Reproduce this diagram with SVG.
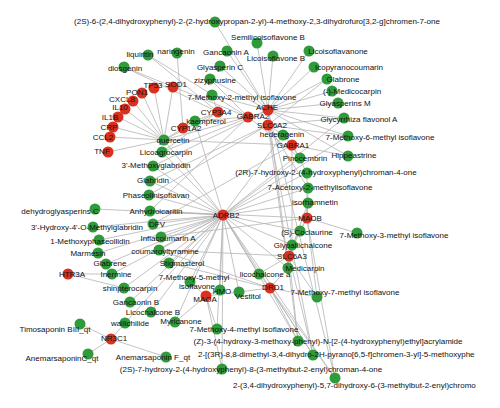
<svg xmlns="http://www.w3.org/2000/svg" width="500" height="408" viewBox="0 0 500 408">
<style>
.e{stroke:#b4b4b4;stroke-width:0.8;fill:none}
.t{fill:#d9311f}
.c{fill:#2f9b3a}
circle{r:5.5px}
text{font-family:"Liberation Sans",Arial,sans-serif;font-size:8px;fill:#111;text-anchor:middle}
.s{text-anchor:start}
</style>
<defs><clipPath id="clip"><rect x="0" y="0" width="484" height="408"/></clipPath></defs>
<rect width="500" height="408" fill="#fff"/>
<g id="connectors" class="e">
<path d="M164 140L154 88M164 140L173 87M164 140L142 93M164 140L133 101M164 140L125 109M164 140L118 117M164 140L113 127M164 140L110 137M164 140L108 152M164 140L183 128M164 140L218 112M164 140L248 117M164 140L292 145M164 140L223 215"/>
<path d="M195 121L183 128M195 121L218 112M195 121L248 117M177 53L183 128M148 55L248 117M148 55L218 112M124 67L218 112M124 67L248 117"/>
<path d="M268 110L215 22M268 110L257 43M268 110L227 51M268 110L273 56M268 110L309 51M268 110L314 67M268 110L327 79M268 110L332 91M268 110L338 103M268 110L344 118M268 110L220 66M268 110L210 79M268 110L212 95M268 110L348 136M268 110L162 152M268 110L153 166M268 110L298 341M268 110L335 378M268 110L348 156"/>
<path d="M268 125L344 118M268 125L348 136M268 125L327 79M268 125L283 135M268 125L313 355M268 125L288 268M268 125L308 188M268 125L150 181M268 125L149 195"/>
<path d="M248 117L300 158M248 117L210 79M248 117L150 211M292 145L283 135M292 145L300 158M292 145L348 156M292 145L307 173M292 145L153 224M292 145L292 245M218 112L212 95M218 112L162 152"/>
<path d="M307 218L308 203M307 218L308 188M307 218L307 173M307 218L300 231M307 218L357 233M307 218L292 245M307 218L161 237M307 218L317 297M307 218L335 378M307 218L150 211"/>
<path d="M289 256L292 245M289 256L288 268M289 256L300 231M289 256L317 297M289 256L259 274M289 256L298 341M289 256L313 355M289 256L159 250M289 256L308 203"/>
<path d="M270 288L259 274M270 288L239 292M270 288L317 297M270 288L288 268M270 288L298 341M270 288L313 355M270 288L335 378M270 288L169 263M270 288L159 250"/>
<path d="M206 296L220 290M206 296L190 282M206 296L217 329M206 296L175 322M206 296L222 369M206 296L239 292"/>
<path d="M223 215L162 152M223 215L153 166M223 215L150 181M223 215L149 195M223 215L150 211M223 215L153 224M223 215L161 237M223 215L159 250M223 215L169 263M223 215L190 282M223 215L95 209M223 215L93 227M223 215L99 240M223 215L98 253M223 215L106 264M223 215L112 274M223 215L124 288M223 215L130 302M223 215L151 312M223 215L175 322M223 215L125 323M223 215L220 290M223 215L239 292M223 215L259 274M223 215L217 329M223 215L222 369M223 215L298 341M223 215L313 355M223 215L335 378M223 215L288 268M223 215L292 245M223 215L300 231M223 215L308 203M223 215L308 188M223 215L307 173M223 215L300 158M223 215L283 135M223 215L195 121M223 215L344 118M223 215L348 136"/>
<path d="M68 274L112 274M68 274L124 288M111 339L80 324M111 339L88 354M111 339L125 323M111 339L166 357"/>
</g>
<g id="nodes">
<g id="n-TP53"><circle class="t" cx="154" cy="88" r="5.5"/><text x="153" y="88">TP53</text></g>
<g id="n-SOD1"><circle class="t" cx="173" cy="87" r="5.5"/><text x="176" y="87">SOD1</text></g>
<g id="n-PON1"><circle class="t" cx="142" cy="93" r="5.5"/><text x="137" y="95">PON1</text></g>
<g id="n-CXCL8"><circle class="t" cx="133" cy="101" r="5.5"/><text x="122" y="102">CXCL8</text></g>
<g id="n-IL10"><circle class="t" cx="125" cy="109" r="5.5"/><text x="120" y="110">IL10</text></g>
<g id="n-IL1B"><circle class="t" cx="118" cy="117" r="5.5"/><text x="110" y="120">IL1B</text></g>
<g id="n-CRP"><circle class="t" cx="113" cy="127" r="5.5"/><text x="109" y="130">CRP</text></g>
<g id="n-CCL2"><circle class="t" cx="110" cy="137" r="5.5"/><text x="103" y="140">CCL2</text></g>
<g id="n-TNF"><circle class="t" cx="108" cy="152" r="5.5"/><text x="102" y="154">TNF</text></g>
<g id="n-CYP1A2"><circle class="t" cx="183" cy="128" r="5.5"/><text x="186" y="131">CYP1A2</text></g>
<g id="n-CYP3A4"><circle class="t" cx="218" cy="112" r="5.5"/><text x="216" y="115">CYP3A4</text></g>
<g id="n-GABRA2"><circle class="t" cx="248" cy="117" r="5.5"/><text x="253" y="119">GABRA2</text></g>
<g id="n-ACHE"><circle class="t" cx="268" cy="110" r="5.5"/><text x="267" y="110">ACHE</text></g>
<g id="n-SLC6A2"><circle class="t" cx="268" cy="125" r="5.5"/><text x="272" y="128">SLC6A2</text></g>
<g id="n-GABRA1"><circle class="t" cx="292" cy="145" r="5.5"/><text x="293" y="148">GABRA1</text></g>
<g id="n-ADRB2"><circle class="t" cx="223" cy="215" r="5.5"/><text x="226" y="218">ADRB2</text></g>
<g id="n-MAOB"><circle class="t" cx="307" cy="218" r="5.5"/><text x="310" y="221">MAOB</text></g>
<g id="n-SLC6A3"><circle class="t" cx="289" cy="256" r="5.5"/><text x="292" y="259">SLC6A3</text></g>
<g id="n-DRD1"><circle class="t" cx="270" cy="288" r="5.5"/><text x="273" y="290">DRD1</text></g>
<g id="n-MAOA"><circle class="t" cx="206" cy="296" r="5.5"/><text x="205" y="302">MAOA</text></g>
<g id="n-HTR3A"><circle class="t" cx="68" cy="274" r="5.5"/><text x="72" y="277">HTR3A</text></g>
<g id="n-NR3C1"><circle class="t" cx="111" cy="339" r="5.5"/><text x="114" y="341">NR3C1</text></g>

<g id="n-c1"><circle class="c" cx="215" cy="22" r="5.5"/><text x="257" y="24">(2S)-6-(2,4-dihydroxyphenyl)-2-(2-hydroxypropan-2-yl)-4-methoxy-2,3-dihydrofuro[3,2-g]chromen-7-one</text></g>
<g id="n-semilicoisoflavoneB"><circle class="c" cx="257" cy="43" r="5.5"/><text x="268" y="40">Semilicoisoflavone B</text></g>
<g id="n-gancaoninA"><circle class="c" cx="227" cy="51" r="5.5"/><text x="226" y="55">Gancaonin A</text></g>
<g id="n-licoisoflavoneB"><circle class="c" cx="273" cy="56" r="5.5"/><text x="276" y="61">Licoisoflavone B</text></g>
<g id="n-licoisoflavanone"><circle class="c" cx="309" cy="51" r="5.5"/><text x="338" y="54">Licoisoflavanone</text></g>
<g id="n-icopyranocoumarin"><circle class="c" cx="314" cy="67" r="5.5"/><text x="349" y="70">Icopyranocoumarin</text></g>
<g id="n-glabrone"><circle class="c" cx="327" cy="79" r="5.5"/><text x="343" y="82">Glabrone</text></g>
<g id="n-medicocarpin"><circle class="c" cx="332" cy="91" r="5.5"/><text x="352" y="94">(-)-Medicocarpin</text></g>
<g id="n-glyasperinsM"><circle class="c" cx="338" cy="103" r="5.5"/><text x="345" y="106">Glyasperins M</text></g>
<g id="n-glycyrrhiza"><circle class="c" cx="344" cy="118" r="5.5"/><text x="359" y="122">Glycyrrhiza flavonol A</text></g>
<g id="n-7m6m"><circle class="c" cx="348" cy="136" r="5.5"/><text x="380" y="140">7-Methoxy-6-methyl isoflavone</text></g>
<g id="n-hippeastrine"><circle class="c" cx="348" cy="156" r="5.5"/><text x="354" y="158">Hippeastrine</text></g>
<g id="n-pinocembrin"><circle class="c" cx="300" cy="158" r="5.5"/><text x="305" y="161">Pinocembrin</text></g>
<g id="n-2R"><circle class="c" cx="307" cy="173" r="5.5"/><text x="326" y="175">(2R)-7-hydroxy-2-(4-hydroxyphenyl)chroman-4-one</text></g>
<g id="n-7acetoxy"><circle class="c" cx="308" cy="188" r="5.5"/><text x="320" y="190">7-Acetoxy-2-methylisoflavone</text></g>
<g id="n-isorhamnetin"><circle class="c" cx="308" cy="203" r="5.5"/><text x="315" y="205">isorhamnetin</text></g>
<g id="n-coclaurine"><circle class="c" cx="300" cy="231" r="5.5"/><text x="307" y="235">(S)-Coclaurine</text></g>
<g id="n-7m3m"><circle class="c" cx="357" cy="233" r="5.5"/><text x="394" y="238">7-Methoxy-3-methyl isoflavone</text></g>
<g id="n-glypallichalcone"><circle class="c" cx="292" cy="245" r="5.5"/><text x="303" y="248">Glypallichalcone</text></g>
<g id="n-medicarpin"><circle class="c" cx="288" cy="268" r="5.5"/><text x="305" y="271">Medicarpin</text></g>
<g id="n-licochalconea"><circle class="c" cx="259" cy="274" r="5.5"/><text x="265" y="277">licochalcone a</text></g>
<g id="n-7m7m"><circle class="c" cx="317" cy="297" r="5.5"/><text x="345" y="295">7-Methoxy-7-methyl isoflavone</text></g>
<g id="n-vestitol"><circle class="c" cx="239" cy="292" r="5.5"/><text x="248" y="299">Vestitol</text></g>
<g id="n-HMO"><circle class="c" cx="220" cy="290" r="5.5"/><text x="222" y="294">HMO</text></g>
<g id="n-7m5m"><circle class="c" cx="190" cy="282" r="5.5"/><text x="194" y="280">7-Methoxy-5-methyl</text><text x="197" y="289">isoflavone</text></g>
<g id="n-stigmasterol"><circle class="c" cx="169" cy="263" r="5.5"/><text x="182" y="266">Stigmasterol</text></g>
<g id="n-coumaroyltyramine"><circle class="c" cx="159" cy="250" r="5.5"/><text x="165" y="254">coumaroyltyramine</text></g>
<g id="n-inflacoumarinA"><circle class="c" cx="161" cy="237" r="5.5"/><text x="168" y="241">Inflacoumarin A</text></g>
<g id="n-DFV"><circle class="c" cx="153" cy="224" r="5.5"/><text x="157" y="227">DFV</text></g>
<g id="n-anhydroicaritin"><circle class="c" cx="150" cy="211" r="5.5"/><text x="156" y="214">Anhydroicaritin</text></g>
<g id="n-phaseolinisoflavan"><circle class="c" cx="149" cy="195" r="5.5"/><text x="156" y="198">Phaseolinisoflavan</text></g>
<g id="n-glabridin"><circle class="c" cx="150" cy="181" r="5.5"/><text x="153" y="183">Glabridin</text></g>
<g id="n-3methoxyglabridin"><circle class="c" cx="153" cy="166" r="5.5"/><text x="156" y="168">3'-Methoxyglabridin</text></g>
<g id="n-licoagrocarpin"><circle class="c" cx="162" cy="152" r="5.5"/><text x="166" y="155">Licoagrocarpin</text></g>
<g id="n-quercetin"><circle class="c" cx="164" cy="140" r="5.5"/><text x="173" y="143">quercetin</text></g>
<g id="n-kaempferol"><circle class="c" cx="195" cy="121" r="5.5"/><text x="206" y="124">kaempferol</text></g>
<g id="n-7m2m"><circle class="c" cx="212" cy="95" r="5.5"/><text x="242" y="100">7-Methoxy-2-methyl isoflavone</text></g>
<g id="n-zizyphusine"><circle class="c" cx="210" cy="79" r="5.5"/><text x="215" y="83">zizyphusine</text></g>
<g id="n-glyasperinC"><circle class="c" cx="220" cy="66" r="5.5"/><text x="220" y="70">Glyasperin C</text></g>
<g id="n-naringenin"><circle class="c" cx="177" cy="53" r="5.5"/><text x="176" y="54">naringenin</text></g>
<g id="n-liquiritin"><circle class="c" cx="148" cy="55" r="5.5"/><text x="140" y="57">liquiritin</text></g>
<g id="n-diosgenin"><circle class="c" cx="124" cy="67" r="5.5"/><text x="125" y="71">diosgenin</text></g>
<g id="n-hederagenin"><circle class="c" cx="283" cy="135" r="5.5"/><text x="282" y="137">hederagenin</text></g>
<g id="n-dehydroglyasperinsC"><circle class="c" cx="95" cy="209" r="5.5"/><text x="60" y="214">dehydroglyasperins C</text></g>
<g id="n-3hydroxy"><circle class="c" cx="93" cy="227" r="5.5"/><text x="87" y="230">3'-Hydroxy-4'-O-Methylglabridin</text></g>
<g id="n-1methoxyphaseollidin"><circle class="c" cx="99" cy="240" r="5.5"/><text x="90" y="244">1-Methoxyphaseollidin</text></g>
<g id="n-marmesin"><circle class="c" cx="98" cy="253" r="5.5"/><text x="88" y="256">Marmesin</text></g>
<g id="n-glabrene"><circle class="c" cx="106" cy="264" r="5.5"/><text x="110" y="266">Glabrene</text></g>
<g id="n-inermine"><circle class="c" cx="112" cy="274" r="5.5"/><text x="116" y="277">Inermine</text></g>
<g id="n-shinpterocarpin"><circle class="c" cx="124" cy="288" r="5.5"/><text x="130" y="291">shinpterocarpin</text></g>
<g id="n-gancaoninB"><circle class="c" cx="130" cy="302" r="5.5"/><text x="136" y="305">Gancaonin B</text></g>
<g id="n-licochalconeB"><circle class="c" cx="151" cy="312" r="5.5"/><text x="153" y="315">Licochalcone B</text></g>
<g id="n-myricanone"><circle class="c" cx="175" cy="322" r="5.5"/><text x="181" y="324">Myricanone</text></g>
<g id="n-wallichilide"><circle class="c" cx="125" cy="323" r="5.5"/><text x="130" y="326">wallichilide</text></g>
<g id="n-timosaponin"><circle class="c" cx="80" cy="324" r="5.5"/><text x="55" y="332">Timosaponin BIII_qt</text></g>
<g id="n-anemarsaponinC"><circle class="c" cx="88" cy="354" r="5.5"/><text x="62" y="361">AnemarsaponinC_qt</text></g>
<g id="n-anemarsaponinF"><circle class="c" cx="166" cy="357" r="5.5"/><text x="153" y="360">Anemarsaponin F_qt</text></g>
<g id="n-7m4m"><circle class="c" cx="217" cy="329" r="5.5"/><text x="244" y="332">7-Methoxy-4-methyl isoflavone</text></g>
<g id="n-Z3"><circle class="c" cx="298" cy="341" r="5.5"/><text x="328" y="344">(Z)-3-(4-hydroxy-3-methoxy-phenyl)-N-[2-(4-hydroxyphenyl)ethyl]acrylamide</text></g>
<g id="n-R3"><circle class="c" cx="313" cy="355" r="5.5"/><text class="s" x="198" y="357" clip-path="url(#clip)">2-[(3R)-8,8-dimethyl-3,4-dihydro-2H-pyrano[6,5-f]chromen-3-yl]-5-methoxyphe</text></g>
<g id="n-2S7"><circle class="c" cx="222" cy="369" r="5.5"/><text x="251" y="372">(2S)-7-hydroxy-2-(4-hydroxyphenyl)-8-(3-methylbut-2-enyl)chroman-4-one</text></g>
<g id="n-D34"><circle class="c" cx="335" cy="378" r="5.5"/><text class="s" x="233" y="388" clip-path="url(#clip)">2-(3,4-dihydroxyphenyl)-5,7-dihydroxy-6-(3-methylbut-2-enyl)chromo</text></g>
</g>
</svg>
